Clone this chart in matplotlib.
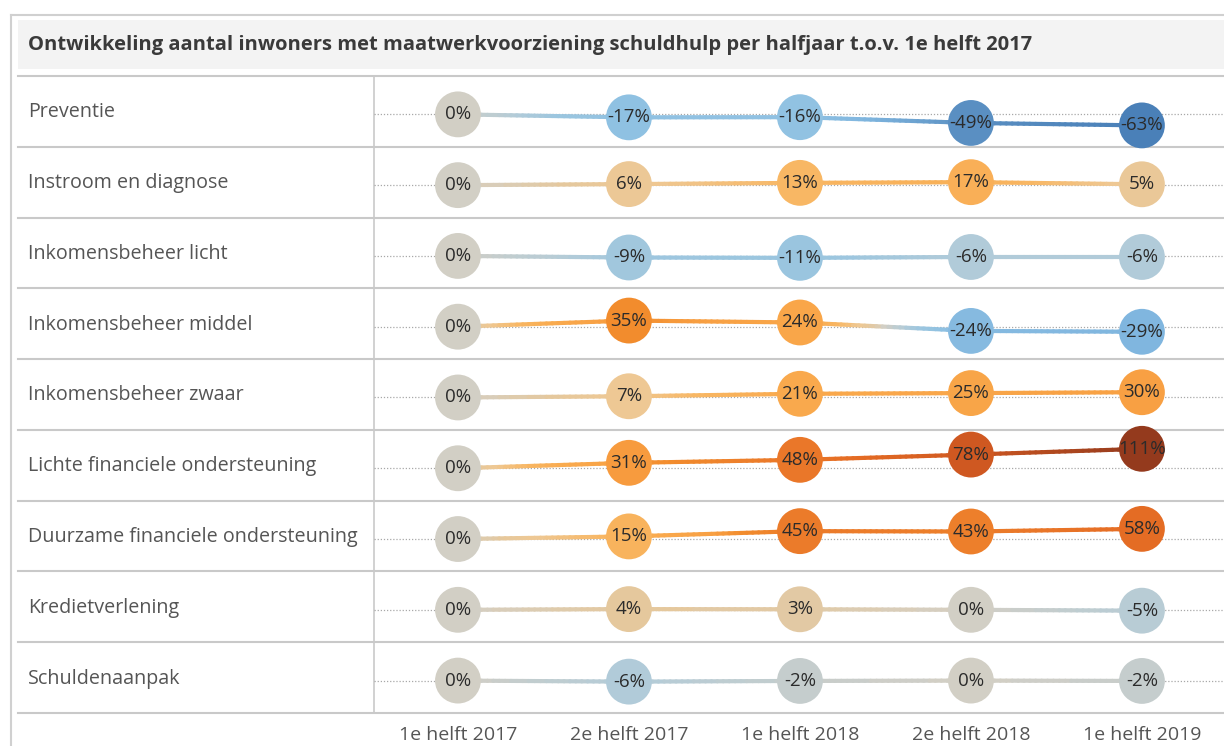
import numpy as np
import matplotlib
matplotlib.use("Agg")
import matplotlib.pyplot as plt
from matplotlib.colors import LinearSegmentedColormap, Normalize
from matplotlib.collections import LineCollection
from matplotlib.patches import Rectangle

plt.rcParams['font.family'] = ['Open Sans', 'DejaVu Sans']

title = "Ontwikkeling aantal inwoners met maatwerkvoorziening schuldhulp per halfjaar t.o.v. 1e helft 2017"
periods = ["1e helft 2017", "2e helft 2017", "1e helft 2018", "2e helft 2018", "1e helft 2019"]
categories = ["Preventie", "Instroom en diagnose", "Inkomensbeheer licht",
              "Inkomensbeheer middel", "Inkomensbeheer zwaar",
              "Lichte financiele ondersteuning", "Duurzame financiele ondersteuning",
              "Kredietverlening", "Schuldenaanpak"]
preventie = [0, -17, -16, -49, -63]
instroom = [0, 6, 13, 17, 5]
ink_licht = [0, -9, -11, -6, -6]
ink_middel = [0, 35, 24, -24, -29]
ink_zwaar = [0, 7, 21, 25, 30]
lichte_fin = [0, 31, 48, 78, 111]
duurzame_fin = [0, 15, 45, 43, 58]
krediet = [0, 4, 3, 0, -5]
schulden = [0, -6, -2, 0, -2]
series = [preventie, instroom, ink_licht, ink_middel, ink_zwaar,
          lichte_fin, duurzame_fin, krediet, schulden]

# diverging colour scale (value -> colour)
stops = [(-63, '#4a80b8'), (-49, '#5a8fc2'), (-29, '#80b6df'), (-17, '#8fc1e2'),
         (-10, '#9cc6df'), (-6, '#b3ccd8'), (-2, '#c6cdcc'), (0, '#d4cfc4'),
         (4, '#e6c89c'), (7, '#efc893'), (13, '#f8b662'), (20, '#f9aa4e'),
         (30, '#f8a043'), (35, '#f28c2d'), (45, '#eb7b2a'), (58, '#e56c24'),
         (78, '#cf5821'), (111, '#943a1d')]
vmin, vmax = stops[0][0], stops[-1][0]
cmap = LinearSegmentedColormap.from_list(
    'ob', [((v - vmin) / (vmax - vmin), c) for v, c in stops])
norm = Normalize(vmin, vmax)

W, H = 1224, 746
fig = plt.figure(figsize=(W / 100, H / 100), dpi=100)

# background / table frame in pixel coordinates
bg = fig.add_axes([0, 0, 1, 1])
bg.set_xlim(0, W)
bg.set_ylim(H, 0)
bg.axis('off')

grid_col = '#c9c9c9'
bg.plot([11, W], [15, 15], color='#d0d0d0', lw=1.5)
bg.plot([11, 11], [15, H], color='#d0d0d0', lw=1.5)
bg.add_patch(Rectangle((18, 20), W - 18, 49, facecolor='#f3f3f3', edgecolor='none'))
bg.text(28, 45, title, fontsize=14.5, fontweight='bold', color='#3a3a3a', va='center', ha='left')

top, bottom = 76, 713
n = len(categories)
rh = (bottom - top) / n
left_div = 374
for r in range(n + 1):
    y = top + r * rh
    bg.plot([18, W], [y, y], color=grid_col, lw=1.5, zorder=1)
bg.plot([left_div, left_div], [top, bottom], color=grid_col, lw=1.2, zorder=1)
for r, cat in enumerate(categories):
    bg.text(28, top + (r + 0.5) * rh + 1, cat, fontsize=14.2, color='#555555', va='center', ha='left')

x = np.arange(len(periods))
for r, vals in enumerate(series):
    y0 = top + r * rh
    ax = fig.add_axes([left_div / W, 1 - (y0 + rh) / H, (W - left_div) / W, rh / H])
    ax.set_xlim(-0.491, 4.48)
    ax.set_ylim(-185, 219)
    ax.patch.set_alpha(0)
    for s in ax.spines.values():
        s.set_visible(False)
    ax.set_yticks([])
    ax.axhline(0, color='#a8a8a8', ls=(0, (1, 1.5)), lw=0.9, zorder=1)
    vals = np.asarray(vals, dtype=float)
    # gradient connecting line
    segs, cvals = [], []
    for i in range(len(x) - 1):
        t = np.linspace(0, 1, 30)
        xs = x[i] + t * (x[i + 1] - x[i])
        ys = vals[i] + t * (vals[i + 1] - vals[i])
        for k in range(len(t) - 1):
            segs.append([(xs[k], ys[k]), (xs[k + 1], ys[k + 1])])
            cvals.append((ys[k] + ys[k + 1]) / 2)
    lc = LineCollection(segs, cmap=cmap, norm=norm, linewidths=3, zorder=2,
                        capstyle='round')
    lc.set_array(np.array(cvals))
    ax.add_collection(lc)
    ax.scatter(x, vals, s=33 ** 2, c=vals, cmap=cmap, norm=norm, linewidths=0,
               zorder=3, clip_on=False)
    for xi, v in zip(x, vals):
        ax.text(xi, v, f"{int(v)}%", ha='center', va='center', fontsize=13.5,
                color='#2b2b2b', zorder=4, clip_on=False)
    if r == n - 1:
        ax.set_xticks(x)
        ax.set_xticklabels(periods, fontsize=14, color='#555555')
        ax.tick_params(axis='x', length=0, pad=9)
    else:
        ax.set_xticks([])

fig.savefig('out.png', dpi=100)
